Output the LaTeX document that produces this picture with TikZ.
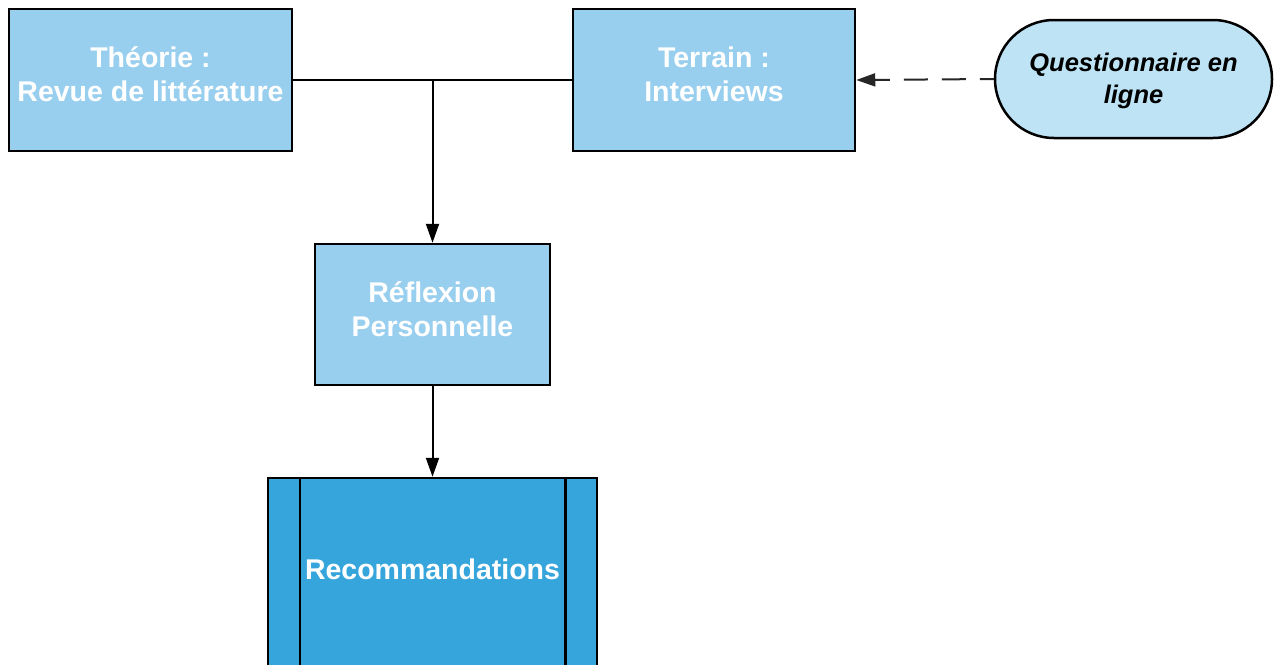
\documentclass[tikz,border=0pt]{standalone}
\usepackage{fontspec}
\setmainfont{Liberation Sans}
\usetikzlibrary{arrows.meta,calc}
\definecolor{boxblue}{HTML}{98CEEE}
\definecolor{pillblue}{HTML}{BDE3F5}
\definecolor{darkblue}{HTML}{36A5DC}
\newcommand\uptext[2]{\raisebox{#1}[\height][\depth]{\begin{tabular}{@{}c@{}}#2\end{tabular}}}
\begin{document}
\begin{tikzpicture}[x=1pt,y=-1pt,
  boxstyle/.style={draw=black, line width=2.5pt, fill=boxblue, text=white, inner sep=0pt,
    font=\fontsize{28.5}{34}\selectfont\bfseries},
  pill/.style={draw=black, line width=2.5pt, fill=pillblue, text=black, inner sep=0pt,
    rounded corners=59pt, minimum width=277pt, minimum height=118pt,
    font=\fontsize{25.5}{32}\selectfont\bfseries\itshape},
  reco/.style={draw=black, line width=2.5pt, fill=darkblue, text=white, inner sep=0pt,
    font=\fontsize{28.5}{34}\selectfont\bfseries},
  conn/.style={line width=2pt, draw=black},
  arr/.style={conn, -{Triangle[length=19pt,width=13pt]}},
  dasharr/.style={conn, draw=black!85, line cap=butt, -{Triangle[length=19pt,width=13pt]},
    dash pattern=on 24pt off 14pt, dash phase=10pt}
]
\useasboundingbox (0,0) rectangle (1274,664);
\clip (0,0) rectangle (1274,664);
\fill[white] (0,0) rectangle (1274,664);

\node[boxstyle, minimum width=283pt, minimum height=142pt] (theo) at (150.5,80)
  {\uptext{2pt}{Théorie :\\Revue de littérature}};
\node[boxstyle, minimum width=282pt, minimum height=142pt] (terr) at (714,80)
  {\uptext{2pt}{Terrain :\\Interviews}};
\node[pill] (ques) at (1133.5,79)
  {\uptext{-2pt}{Questionnaire en\\ligne}};
\node[boxstyle, minimum width=235pt, minimum height=141pt] (refl) at (432.5,314.5)
  {\uptext{1.5pt}{Réflexion\\Personnelle}};
\node[reco, minimum width=329pt, minimum height=220pt] (rec) at (432.5,588)
  {\uptext{15pt}{Recommandations}};

\draw[line width=2.5pt] ($(rec.north west)+(33pt,0)$) -- ($(rec.south west)+(33pt,0)$);
\draw[line width=2.5pt] ($(rec.north east)+(-33pt,0)$) -- ($(rec.south east)+(-33pt,0)$);

\coordinate (j) at (refl.north |- theo.east);
\draw[conn] (theo.east) -- (terr.west);
\draw[arr] (j) -- (refl.north);
\draw[arr] (refl.south) -- (rec.north);
\draw[dasharr] (ques.west) -- (terr.east);
\end{tikzpicture}
\end{document}
